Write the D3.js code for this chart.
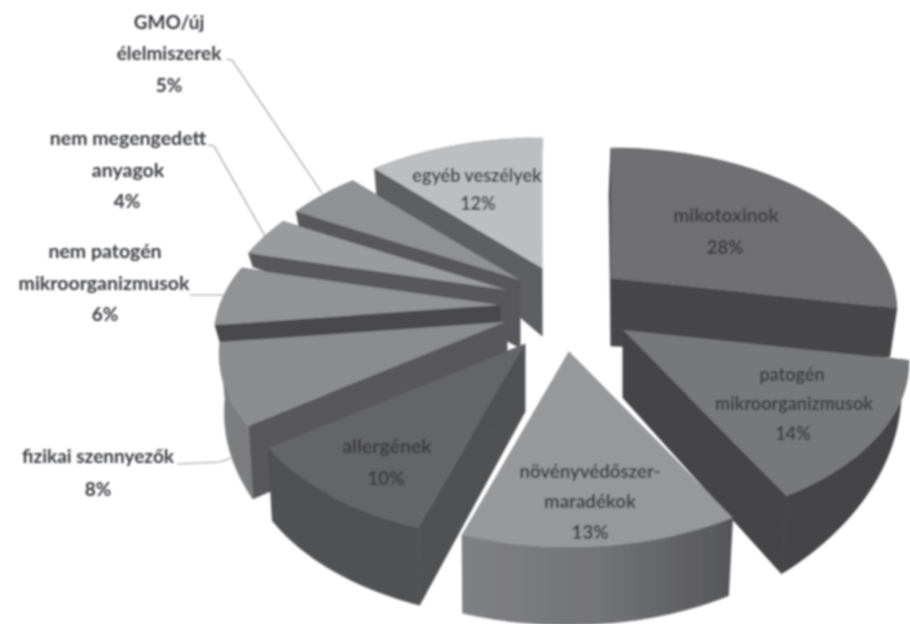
<!DOCTYPE html>
<html><head><meta charset="utf-8">
<script src="https://cdn.jsdelivr.net/npm/d3@7"></script>
<style>html,body{margin:0;background:#fff}svg{display:block}text{font-family:Lato,"Open Sans",sans-serif;font-weight:700;fill:#3b3c40;text-anchor:middle}</style>
</head><body><svg id="c" width="910" height="624"></svg>
<script>
// data (clockwise from 12 o'clock)
const categories = ["mikotoxinok","patogén mikroorganizmusok","növényvédőszer-maradékok","allergének","fizikai szennyezők","nem patogén mikroorganizmusok","nem megengedett anyagok","GMO/új élelmiszerek","egyéb veszélyek"];
const shares = [28,14,13,10,8,6,4,5,12];
// style
const topColors = ["#6f7072","#77787a","#96989a","#646567","#8a8c8e","#919395","#9a9b9d","#909193","#bcbec0"];
const radialColors = ["#47474a","#454547","#5a5b5d","#505153","#58595b","#49484b","#58595b","#58595b","#5d5e60"];
const rimColors = ["#47474a","#454547","url(#frontWall)","#505153","#7b7d7f","#49484b","#58595b","#58595b","#5d5e60"];
// layout: explode offsets from the pie centre, per slice
const explodeX = [111,123,69,25,5,0,7,20,42];
const explodeY = [-22,30,52,44,22,5,-10,-20,-32];
const rimExtra = [23,0,0,0,0,-38,-30,-18,0];
const paintOrder = [8,7,6,5,4,3,0,1,2];
const cx = 500, cy = 300, Rx = 280, Ry = 156, persp = 0.2, apexDepth = 68;
const rimDepth = d3.scaleLinear().domain([0,100,151,198,234,263,317,360]).range([27,25,78,78,73,55,27,27]);

const pie = d3.pie().sort(null).value(d=>d).startAngle(0).endAngle(2*Math.PI);
const arcs = pie(shares);
const svg = d3.select("#c");
const defs = svg.append("defs");
defs.append("filter").attr("id","soft").append("feGaussianBlur").attr("stdDeviation",0.8);
const g1 = defs.append("linearGradient").attr("id","frontWall").attr("gradientUnits","userSpaceOnUse").attr("x1",468).attr("x2",730).attr("y1",0).attr("y2",0);
g1.append("stop").attr("offset",0).attr("stop-color","#7f8082");
g1.append("stop").attr("offset",0.5).attr("stop-color","#737476");
g1.append("stop").attr("offset",1).attr("stop-color","#56575a");

function project(theta,i,ex){
  const x = Math.sin(theta), y = -Math.cos(theta), s = 1/(1-persp*y);
  return {x:cx+explodeX[i]+Rx*x*s, y:cy+explodeY[i]+Ry*y*s, h:rimDepth(theta*180/Math.PI)+ex};
}
const line = d3.line().x(d=>d[0]).y(d=>d[1]);
const root = svg.append("g").attr("filter","url(#soft)");
paintOrder.forEach(i=>{
  const a = arcs[i], g = root.append("g");
  const n = Math.max(8,Math.ceil((a.endAngle-a.startAngle)*40));
  const thetas = d3.range(n+1).map(k=>a.startAngle+(a.endAngle-a.startAngle)*k/n);
  const rim = thetas.map(t=>project(t,i,rimExtra[i]));
  const ax = cx+explodeX[i], ay = cy+explodeY[i];
  const down = p=>[p.x+(500-p.x)*0.018, p.y+p.h];
  const top = p=>[p.x,p.y];
  const apexT=[ax,ay], apexB=[ax,ay+apexDepth];
  [rim[0],rim[n]].forEach(p=>{
    g.append("path").attr("d",line([apexT,top(p),down(p),apexB])+"Z").attr("fill",radialColors[i]).attr("stroke",radialColors[i]).attr("stroke-width",0.5);
  });
  g.append("path").attr("d",line(rim.map(top).concat(rim.slice().reverse().map(down)))+"Z").attr("fill",rimColors[i]).attr("stroke",rimColors[i]).attr("stroke-width",0.5);
  g.append("path").attr("d",line([apexT].concat(rim.map(top)))+"Z").attr("fill",topColors[i]);
});

// leader lines
const leaders = [
  [[226,59],[232,60],[322,193]],
  [[208,145],[214,146],[265,236]],
  [[190,295],[225,295]],
  [[177,464],[220,462],[231,458]]
];
leaders.forEach(l=>root.append("path").attr("d",line(l)).attr("fill","none").attr("stroke","#9a9a9a").attr("stroke-width",1.1));

// labels: text, x, baseline, size
const labelLines = [
  ["GMO/új",169,29,19],["élelmiszerek",169,60,19],["5%",169,92,19],
  ["nem megengedett",128,145,19.5],["anyagok",128,177,19.5],["4%",127,208,19],
  ["nem patogén",105,258,19.5],["mikroorganizmusok",104,290,19.5],["6%",105,321,19],
  ["fizikai szennyezők",98,463,19],["8%",98,496,19],
  ["egyéb veszélyek",477,182,18],["12%",478,210,18],
  ["mikotoxinok",726,222,19],["28%",725,254,18.5],
  ["patogén",792,381,18],["mikroorganizmusok",794,410,18],["14%",793,440,18],
  ["növényvédőszer-",590,478,18.6],["maradékok",590,508,18.6],["13%",590,539,18.6],
  ["allergének",387,453,19.5],["10%",386,485,19]
];
root.selectAll("text").data(labelLines).join("text").attr("x",d=>d[1]).attr("y",d=>d[2]).attr("font-size",d=>d[3]).text(d=>d[0]);
</script></body></html>
